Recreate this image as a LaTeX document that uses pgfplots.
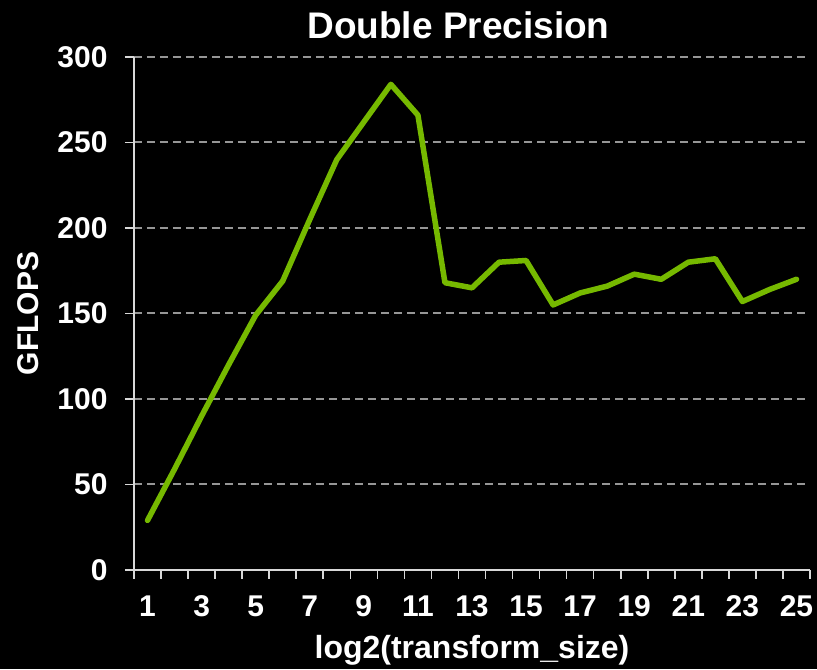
\documentclass[border=0pt]{standalone}
\usepackage{fontspec}
\setmainfont{Liberation Sans}
\usepackage{pgfplots}
\pgfplotsset{compat=1.18}
\definecolor{nvgreen}{HTML}{76B900}
\definecolor{gridgray}{HTML}{969696}
\definecolor{axisgray}{HTML}{D8D8D8}
\begin{document}
\begin{tikzpicture}
\fill[black] (-134pt,-99pt) rectangle (683pt,570pt);
\begin{axis}[
  at={(0,0)}, anchor=south west,
  scale only axis, width=676pt, height=513pt,
  xmin=0.5, xmax=25.5, ymin=0, ymax=300,
  xtick={0.5,1.5,...,25.5}, xticklabels={},
  extra x ticks={1,3,...,25},
  extra x tick labels={1,3,5,7,9,11,13,15,17,19,21,23,25},
  extra x tick style={major tick length=0pt, grid=none},
  ytick={0,50,...,300},
  axis x line*=bottom, axis y line*=left,
  tick align=outside,
  major tick length=9pt,
  ymajorgrids,
  grid style={gridgray, dash pattern=on 8pt off 5pt, line width=2pt},
  axis line style={axisgray, line width=1.6pt, -},
  tick style={axisgray, line width=1.6pt},
  /pgf/number format/assume math mode=true,
  ticklabel style={font=\fontsize{30}{34}\selectfont\bfseries, text=white},
  xticklabel style={yshift=-22pt},
  yticklabel style={xshift=-14pt},
  title={Double Precision},
  title style={at={(rel axis cs:0.48,1)}, anchor=base, yshift=12pt,
    font=\fontsize{37}{42}\selectfont\bfseries, text=white},
  xlabel={log2(transform\_size)},
  xlabel style={at={(rel axis cs:0.5,0)}, anchor=base, yshift=-89pt,
    font=\fontsize{32}{36}\selectfont\bfseries, text=white},
  ylabel={GFLOPS},
  ylabel style={at={(rel axis cs:0,0.5)}, anchor=base, rotate=0, xshift=0pt, yshift=95pt,
    font=\fontsize{30}{34}\selectfont\bfseries, text=white},
]
\addplot[nvgreen, line width=5.5pt, line join=round, line cap=round] coordinates {
 (1,29) (2,59) (3,90) (4,120) (5,149) (6,169) (7,205) (8,240) (9,262) (10,284)
 (11,266) (12,168) (13,165) (14,180) (15,181) (16,155) (17,162) (18,166)
 (19,173) (20,170) (21,180) (22,182) (23,157) (24,164) (25,170)
};
\end{axis}
\end{tikzpicture}
\end{document}
